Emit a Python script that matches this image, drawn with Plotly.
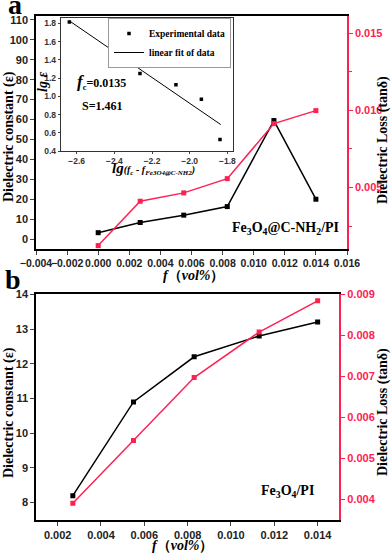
import plotly.graph_objects as go

# ---------------- data ----------------
# Panel a: Fe3O4@C-NH2/PI
a_f = [0.0, 0.0027, 0.0055, 0.0083, 0.0113, 0.014]
a_eps = [3.2, 8.3, 12.0, 16.3, 59.5, 20.0]
a_tan = [0.00125, 0.00412, 0.00466, 0.00558, 0.00914, 0.00998]

# Inset: percolation fit (lg(fc - f) vs lg eps)
in_lgx = [-2.639, -2.264, -2.073, -1.938, -1.839]
in_lge = [1.817, 1.25, 1.127, 0.967, 0.527]
fit_x = [-2.64, -1.835]
fit_y = [1.83, 0.69]

# Panel b: Fe3O4/PI
b_f = [0.0027, 0.0055, 0.0083, 0.0113, 0.014]
b_eps = [8.2, 10.9, 12.2, 12.8, 13.2]
b_tan = [0.00391, 0.00544, 0.00697, 0.00808, 0.00884]

# ---------------- styling ----------------
W, H = 392, 555
RED = "#ff2052"
SANS = "Liberation Sans, Arial, sans-serif"
SERIF = "Liberation Serif, Times New Roman, serif"


def px(x):
    return x / W


def py(y):
    return 1 - y / H


def tf(color="#222", size=11):
    return dict(family=SANS, size=size, color=color, weight="bold")


base = dict(showgrid=False, zeroline=False, showline=True, ticks="outside",
            ticklen=4, tickwidth=1.2, automargin=False)

fig = go.Figure()
line_k = dict(color="black", width=1.5)
line_r = dict(color=RED, width=1.5)
mk_k = dict(symbol="square", size=5, color="black")
mk_r = dict(symbol="square", size=5, color=RED)

fig.add_trace(go.Scatter(x=a_f, y=a_eps, xaxis="x", yaxis="y", mode="lines+markers",
                         line=line_k, marker=mk_k, showlegend=False))
fig.add_trace(go.Scatter(x=a_f, y=a_tan, xaxis="x", yaxis="y2", mode="lines+markers",
                         line=line_r, marker=mk_r, showlegend=False))
fig.add_trace(go.Scatter(x=b_f, y=b_eps, xaxis="x2", yaxis="y3", mode="lines+markers",
                         line=line_k, marker=mk_k, showlegend=False))
fig.add_trace(go.Scatter(x=b_f, y=b_tan, xaxis="x2", yaxis="y4", mode="lines+markers",
                         line=line_r, marker=mk_r, showlegend=False))
fig.add_trace(go.Scatter(x=in_lgx, y=in_lge, xaxis="x3", yaxis="y5", mode="markers",
                         marker=dict(symbol="square", size=3.5, color="black"),
                         name="Experimental data"))
fig.add_trace(go.Scatter(x=fit_x, y=fit_y, xaxis="x3", yaxis="y5", mode="lines",
                         line=dict(color="black", width=1), name="linear fit of data"))

fig.update_layout(
    width=W, height=H, margin=dict(l=0, r=0, t=0, b=0, autoexpand=False),
    paper_bgcolor="white", plot_bgcolor="rgba(0,0,0,0)",
    xaxis=dict(**base, domain=[px(36), px(347)], range=[-0.004, 0.016], dtick=0.002,
               tick0=0, tickformat=".3f", anchor="y", linecolor="black", linewidth=1.5,
               mirror=True, tickangle=0, tickfont=tf(size=10.5)),
    yaxis=dict(**base, domain=[py(249), py(16)], range=[-5, 112], dtick=10, tick0=0,
               anchor="x", linecolor="black", linewidth=1.5, tickfont=tf()),
    yaxis2=dict(**base, overlaying="y", side="right", anchor="x", range=[0.00103, 0.0161],
                dtick=0.005, tick0=0, tickformat=".3f", linecolor=RED, linewidth=1.5,
                tickcolor=RED, tickfont=tf(RED),
                minor=dict(dtick=0.0025, ticks="outside", ticklen=3, tickcolor=RED)),
    xaxis2=dict(**base, domain=[px(36), px(339.3)], range=[0.001, 0.015], dtick=0.002,
                tick0=0, tickformat=".3f", anchor="y3", linecolor="black", linewidth=1.5,
                mirror=True, tickangle=0, tickfont=tf()),
    yaxis3=dict(**base, domain=[py(520), py(294.3)], range=[7.5, 14], dtick=1, tick0=0,
                anchor="x2", linecolor="black", linewidth=1.5, tickfont=tf()),
    yaxis4=dict(**base, overlaying="y3", side="right", anchor="x2", range=[0.0035, 0.009],
                dtick=0.001, tick0=0, tickformat=".3f", linecolor=RED, linewidth=1.5,
                tickcolor=RED, tickfont=tf(RED)),
    xaxis3=dict(**base, domain=[px(60.7), px(233)], range=[-2.685, -1.77], dtick=0.2,
                tick0=0, tickformat=".1f", anchor="y5", linecolor="#333", linewidth=1,
                mirror=True, tickangle=0, tickfont=tf("#333", 8.5)),
    yaxis5=dict(**base, domain=[py(151), py(18)], range=[0.4, 1.86], dtick=0.2, tick0=0,
                tickformat=".1f", anchor="x3", linecolor="#333", linewidth=1, mirror=True,
                tickfont=tf("#333", 8.5)),
    legend=dict(x=px(108), y=py(18), xanchor="left", yanchor="top",
                bgcolor="white", bordercolor="#999", borderwidth=1,
                font=dict(family=SERIF, size=9.5, color="black", weight="bold"),
                tracegroupgap=0, itemwidth=30),
)
for ax in ["xaxis3", "yaxis5"]:
    fig.layout[ax].ticklen = 2

ann = []


def A(text, x, y, size, angle=0, xanchor="center", yanchor="middle", color="black",
      family=SERIF):
    ann.append(dict(text=text, x=px(x), y=py(y), xref="paper", yref="paper",
                    showarrow=False, textangle=angle, xanchor=xanchor, yanchor=yanchor,
                    font=dict(family=family, size=size, color=color)))


A("<b>a</b>", 15, 4.5, 28)
A("<b>b</b>", 13, 279, 28)
A("<b>Dielectric constant (ε)</b>", 9, 137, 14, angle=-90)
A("<b>Dielectric Loss (tanδ)</b>", 383, 140, 14, angle=-90)
A("<b>Dielectric constant (ε)</b>", 9, 413, 14, angle=-90)
A("<b>Dielectric Loss (tanδ)</b>", 383, 412, 14, angle=-90)
A("<b><i>f</i>（<i>vol%</i>）</b>", 193, 275, 14)
A("<b><i>f</i>（<i>vol%</i>）</b>", 182, 545, 14)
A("<b>Fe<sub>3</sub>O<sub>4</sub>@C-NH<sub>2</sub>/PI</b>", 285, 228, 14)
A("<b>Fe<sub>3</sub>O<sub>4</sub>/PI</b>", 287, 491, 14)
A("<b><i><span style='font-size:17px'>f</span></i><sub>c</sub>=0.0135</b>", 75, 82, 12,
  xanchor="left")
A("<b>S=1.461</b>", 80, 106, 12, xanchor="left")
A("<b><i>lg ε</i></b>", 42, 82, 14, angle=-90)
A("<b><i><span style='font-size:15px'>lg</span>(f<sub>c</sub> - "
  "f<sub>Fe3O4@C-NH2</sub>)</i></b>", 153, 168, 10)

fig.update_layout(annotations=ann)
fig.write_html("out.html", config={"displayModeBar": False},
               post_script="document.body.style.margin='0';")
